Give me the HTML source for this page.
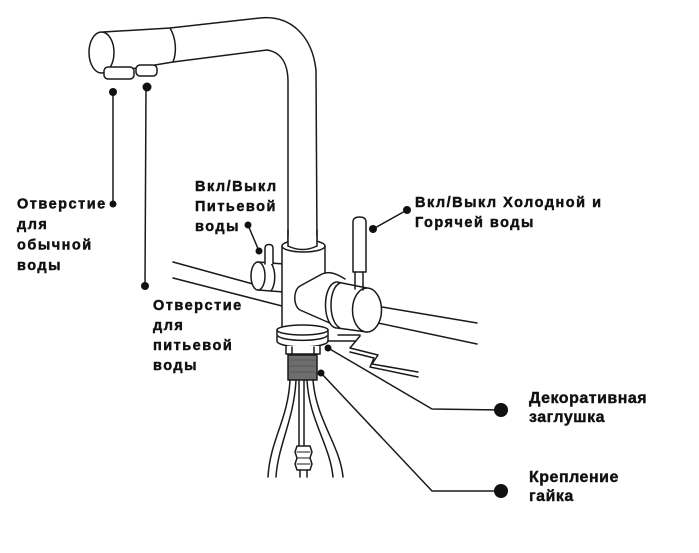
<!DOCTYPE html>
<html>
<head>
<meta charset="utf-8">
<style>
html,body{margin:0;padding:0;background:#fff;}
svg{display:block;}
.l{font-family:"Liberation Sans","DejaVu Sans",sans-serif;font-weight:bold;font-size:14.5px;fill:#111;stroke:#111;stroke-width:0.45px;letter-spacing:1.5px;}
.r{font-family:"Liberation Sans","DejaVu Sans",sans-serif;font-weight:bold;font-size:16px;fill:#111;stroke:#111;stroke-width:0.4px;letter-spacing:0.5px;}
</style>
</head>
<body>
<svg width="699" height="553" viewBox="0 0 699 553" xmlns="http://www.w3.org/2000/svg">
<rect width="699" height="553" fill="#fff"/>
<g fill="none" stroke="#1a1a1a" stroke-width="1.5" stroke-linejoin="round" stroke-linecap="round">
  <!-- counter lines -->
  <path d="M173,262 L253,284"/>
  <path d="M173,278 L282,306"/>
  <path d="M382,307 L477,323"/>
  <path d="M378,323 L477,344"/>

  <!-- spout -->
  <path d="M103,32 L170,28 L260,18 C290,15 312,35 316,70 L317,247"/>
  <path d="M113,72 L173,62 L267,50 C280,52 288,62 288,82 L288,247"/>
  <path d="M170,28 C176,38 177,52 173,62"/>
  <ellipse cx="101.5" cy="52.5" rx="12.5" ry="20.5" fill="#fff"/>
  <rect x="104" y="67" width="30" height="12" rx="4" fill="#fff"/>
  <rect x="136" y="65" width="21" height="11" rx="4" fill="#fff"/>

  <!-- small handle (behind body) -->
  <path d="M258,262 L284,264 L284,292 L258,290 Z" fill="#fff" stroke="none"/>
  <path d="M258,262 L284,264"/>
  <path d="M258,290 L284,292"/>
  <ellipse cx="258" cy="276" rx="7" ry="14" fill="#fff"/>
  <path d="M271,263 C276,270 276,284 271,291"/>
  <path d="M265,264 L265,248 Q265,244.5 269,244.5 Q273,244.5 273,248 L273,264" fill="#fff"/>

  <!-- body -->
  <rect x="282" y="246" width="43" height="84" fill="#fff" stroke="none"/>
  <path d="M282,246 L282,330"/>
  <path d="M325,246 L325,276"/>
  <ellipse cx="303.5" cy="246" rx="21.5" ry="6" fill="#fff"/>
  <rect x="288.5" y="236" width="28" height="11" fill="#fff" stroke="none"/>
  <path d="M288,230 L288,246"/>
  <path d="M317,230 L317,246"/>
  <path d="M288,246 Q302.5,253 317,246"/>

  <!-- angled connector -->
  <path d="M345,279 C336,273 328,271 322,274 L300,286 C293,290 293,306 300,310 L332,324 L345,320 Z" fill="#fff" stroke="none"/>
  <path d="M345,279 C336,273 328,271 322,274 L300,286 C293,290 293,306 300,310 L332,324"/>

  <!-- big handle -->
  <path d="M337,282 L367,288 L367,332 L337,328 Z" fill="#fff" stroke="none"/>
  <path d="M337,282 L367,288"/>
  <path d="M337,328 L367,332"/>
  <path d="M336,282 C322,285 322,325 336,328" fill="#fff"/>
  <path d="M340,283 C328,288 328,322 340,328"/>
  <ellipse cx="367" cy="310" rx="14.5" ry="22" fill="#fff"/>

  <!-- big lever -->
  <path d="M353,272 L353,222 Q353,217 359.5,217 Q366,217 366,222 L366,272 Z" fill="#fff"/>
  <path d="M355,272 L355,289 M363,272 L363,290"/>

  <!-- base ring -->
  <path d="M277,330 L277,341 A25.5,6 0 0 0 328,341 L328,330" fill="#fff"/>
  <ellipse cx="302.5" cy="330" rx="25.5" ry="5" fill="#fff"/>
  <path d="M278,336 A25,5.5 0 0 0 327,336"/>
  <path d="M286,346 L286,354 L320,354 L320,346" fill="#fff"/>
  <path d="M292,347 L292,354 M314,347 L314,354"/>
  <rect x="288" y="355" width="29" height="25" fill="#6e6e6e"/>
  <path d="M290,360 L315,360 M290,366 L315,366 M290,372 L315,372" stroke="#555" stroke-width="1"/>

  <!-- sink step -->
  <path d="M338,335 L360,335"/>
  <path d="M328,341 L355,341"/>
  <path d="M360,336 L350,348 L378,355 L372,364 L418,372"/>
  <path d="M350,352 L374,358 L370,367 L418,377"/>

  <!-- hoses -->
  <path d="M290,380 C288,420 270,440 268,477"/>
  <path d="M296,380 C294,420 278,445 276,477"/>
  <path d="M299,380 L299,445"/>
  <path d="M304,380 L304,445"/>
  <path d="M307,380 C309,420 330,445 333,477"/>
  <path d="M313,380 C316,420 340,445 343,477"/>
  <path d="M297,446 L310,446 L312,452 L310,458 L312,464 L310,470 L297,470 L295,464 L297,458 L295,452 Z" fill="#fff"/>
  <path d="M297,452 L310,452 M297,458 L310,458 M297,464 L310,464" stroke-width="1"/>
  <path d="M300,470 L300,477 M307,470 L307,477"/>

  <!-- leaders -->
  <path d="M113,92 L113,204"/>
  <path d="M146,87 L145,286"/>
  <path d="M248,225 L259,251"/>
  <path d="M407,210 L373,229"/>
  <path d="M328,348 L432,409 L501,410"/>
  <path d="M321,373 L432,491 L501,491"/>
</g>
<g fill="#111">
  <circle cx="113" cy="92" r="4"/>
  <circle cx="147" cy="87" r="4.5"/>
  <circle cx="113" cy="204" r="3.5"/>
  <circle cx="145" cy="286" r="4"/>
  <circle cx="248" cy="225" r="3.5"/>
  <circle cx="259" cy="251" r="3.5"/>
  <circle cx="407" cy="210" r="4"/>
  <circle cx="373" cy="229" r="4"/>
  <circle cx="328" cy="348" r="3.5"/>
  <circle cx="321" cy="373" r="3.5"/>
  <circle cx="501" cy="410" r="7"/>
  <circle cx="501" cy="491" r="7"/>
</g>

<text class="l" x="17" y="208.5">Отверстие</text>
<text class="l" x="17" y="229">для</text>
<text class="l" x="17" y="249.5">обычной</text>
<text class="l" x="17" y="270">воды</text>

<text class="l" x="153" y="310">Отверстие</text>
<text class="l" x="153" y="330">для</text>
<text class="l" x="153" y="350">питьевой</text>
<text class="l" x="153" y="370">воды</text>

<text class="l" x="195" y="191">Вкл/Выкл</text>
<text class="l" x="195" y="211">Питьевой</text>
<text class="l" x="195" y="231">воды</text>

<text class="l" x="415" y="207">Вкл/Выкл Холодной и</text>
<text class="l" x="415" y="227">Горячей воды</text>

<text class="r" x="529" y="403">Декоративная</text>
<text class="r" x="529" y="422">заглушка</text>
<text class="r" x="529" y="482">Крепление</text>
<text class="r" x="529" y="501">гайка</text>
</svg>
</body>
</html>
